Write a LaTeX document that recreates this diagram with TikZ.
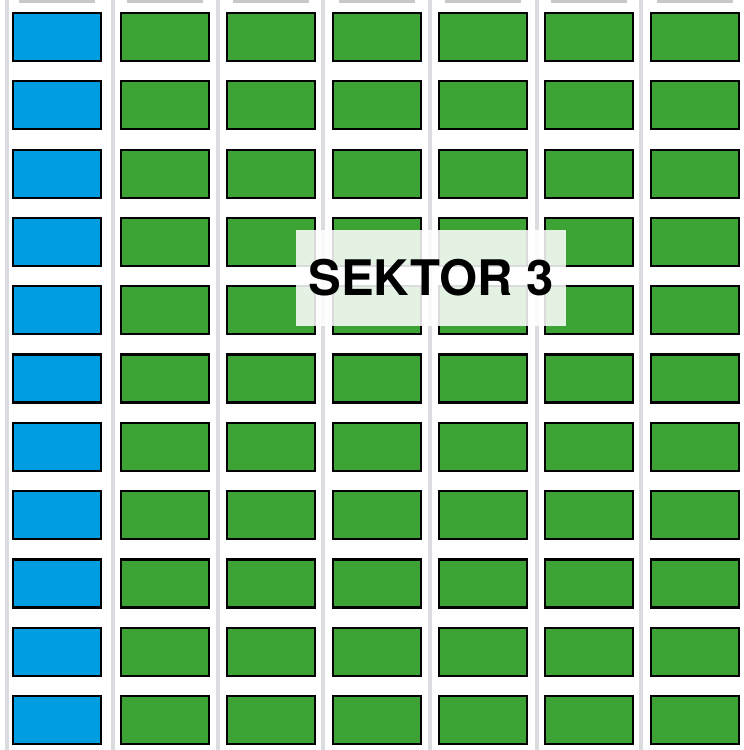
\documentclass[tikz,border=0pt]{standalone}
\usepackage{fontspec}
\setsansfont{TeX Gyre Heros}
\usetikzlibrary{positioning}
\definecolor{seatblue}{RGB}{0,158,224}
\definecolor{seatgreen}{RGB}{61,163,53}
\definecolor{aisle}{RGB}{218,220,224}
\definecolor{rowbar}{RGB}{200,200,200}
\tikzset{
  seat/.style={draw=black,line width=2.2pt,inner sep=0pt,minimum width=88pt,minimum height=48pt},
  label/.style={fill=white,fill opacity=0.86,text opacity=1,minimum width=270pt,minimum height=96pt,
    font=\sffamily\bfseries\fontsize{49}{49}\selectfont}
}
\begin{document}
\begin{tikzpicture}[x=1pt,y=-1pt]
  \useasboundingbox (0,0) rectangle (744,750);
  \fill[white] (0,0) rectangle (744,750);
  % aisles between the seat columns
  \foreach \x in {7,113,218,323,430,537,641}
    \draw[aisle,line width=3.5pt] (\x,0) -- (\x,750);
  % bars of the row cut off at the top
  \foreach \x in {57,165,271,377,483,589,695}
    \fill[rowbar] (\x-38,0) rectangle (\x+38,3);
  % seats
  \foreach \r in {0,...,10}{
    \node[seat,fill=seatblue] (s-\r-0) at (57,37+68.3*\r) {};
    \foreach \c in {1,...,6}
      \node[seat,fill=seatgreen] (s-\r-\c) at (165+106*\c-106,37+68.3*\r) {};
  }
  \node[label] (sektor) at (431,278) {SEKTOR 3};
\end{tikzpicture}
\end{document}
